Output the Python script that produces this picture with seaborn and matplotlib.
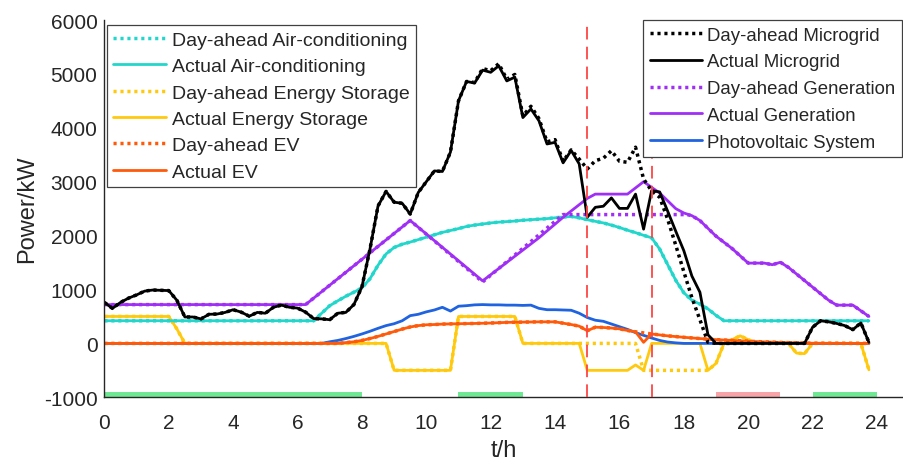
import matplotlib
matplotlib.use("Agg")
import matplotlib.pyplot as plt
import seaborn as sns
import pandas as pd

# ---------------- data (t in hours, power in kW) ----------------
t_mg = [0, 0.25, 0.5, 0.75, 1.0, 1.25, 1.5, 1.75, 2.0, 2.25, 2.5, 2.75, 3.0, 3.25, 3.5, 3.75,
        4.0, 4.25, 4.5, 4.75, 5.0, 5.25, 5.5, 5.75, 6.0, 6.25, 6.5, 6.75, 7.0, 7.25, 7.5, 7.75,
        8.0, 8.25, 8.5, 8.75, 9.0, 9.25, 9.5, 9.75, 10.0, 10.25, 10.5, 10.75, 11.0, 11.25, 11.5, 11.75,
        12.0, 12.25, 12.5, 12.75, 13.0, 13.25, 13.5, 13.75, 14.0, 14.25, 14.5, 14.75, 15.0, 15.25,
        15.5, 15.75, 16.0, 16.25, 16.5, 16.75, 17.0, 17.25, 17.5, 17.75, 18.0, 18.25, 18.5, 18.75,
        19.0, 21.75, 22.0, 22.25, 22.5, 22.75, 23.0, 23.25, 23.5, 23.75]
mg_actual = [760, 650, 760, 840, 900, 970, 990, 985, 980, 800, 490, 490, 455, 540, 545, 575,
             625, 580, 505, 575, 560, 670, 710, 670, 655, 580, 460, 455, 440, 560, 575, 720,
             1050, 1750, 2550, 2820, 2620, 2600, 2400, 2800, 3000, 3200, 3190, 3550, 4500, 4860, 4830, 5070,
             5030, 5150, 4870, 4940, 4190, 4350, 4130, 3700, 3730, 3350, 3580, 3330, 2340, 2525,
             2545, 2700, 2505, 2505, 2770, 2120, 2835, 2810, 2450, 2080, 1720, 1250, 950, 160,
             0, 0, 300, 420, 400, 370, 330, 255, 380, 20]
mg_dayahead = [760, 650, 760, 840, 900, 970, 990, 985, 980, 800, 490, 490, 455, 540, 545, 575,
               625, 580, 505, 575, 560, 670, 710, 670, 655, 580, 460, 455, 440, 560, 575, 720,
               1050, 1750, 2550, 2820, 2620, 2600, 2400, 2800, 3000, 3200, 3190, 3550, 4500, 4860, 4840, 5100,
               5060, 5190, 4900, 4990, 4220, 4400, 4170, 3740, 3780, 3380, 3590, 3420, 3235, 3390,
               3435, 3575, 3380, 3360, 3640, 3050, 2830, 2710, 2300, 1820, 1330, 850, 440, 20,
               0, 0, 300, 420, 400, 370, 330, 255, 380, 20]

t_ac = [0, 6.5, 6.75, 7.0, 7.25, 7.5, 7.75, 8.0, 8.25, 8.5, 8.75, 9.0, 9.25, 9.5, 9.75, 10.0,
        10.25, 10.5, 10.75, 11.0, 11.25, 11.5, 11.75, 12.0, 12.25, 12.5, 12.75, 13.0, 13.25, 13.5,
        13.75, 14.0, 14.25, 14.5, 14.75, 15.0, 15.25, 15.5, 15.75, 16.0, 16.25, 16.5, 16.75, 17.0,
        17.25, 17.5, 17.75, 18.0, 18.25, 18.5, 18.75, 19.0, 19.25, 23.75]
ac_actual = [420, 420, 560, 700, 790, 875, 950, 1030, 1200, 1450, 1660, 1780, 1840, 1880, 1925, 1970,
             2015, 2060, 2095, 2130, 2170, 2195, 2215, 2235, 2250, 2260, 2270, 2285, 2295, 2305,
             2315, 2330, 2345, 2355, 2330, 2295, 2265, 2235, 2195, 2150, 2100, 2055, 2005, 1960,
             1750, 1460, 1170, 940, 800, 730, 640, 520, 420, 420]
ac_dayahead = list(ac_actual)

t_gen = [0, 6.25, 9.5, 11.75, 13.5, 14.25, 15.0, 15.25, 16.25, 16.75, 17.25, 17.75, 18.0, 18.25,
         18.5, 19.0, 19.5, 20.0, 20.5, 20.75, 21.0, 21.25, 22.5, 22.75, 23.25, 23.75]
gen_actual = [720, 720, 2280, 1160, 1960, 2340, 2690, 2770, 2770, 3000, 2790, 2500, 2420, 2370,
              2280, 1990, 1760, 1490, 1490, 1460, 1505, 1410, 800, 710, 710, 500]
t_gen_da = [0, 6.25, 9.5, 11.75, 14.25, 18.1, 18.25, 18.5, 19.0, 19.5, 20.0, 20.5, 20.75, 21.0,
            21.25, 22.5, 22.75, 23.25, 23.75]
gen_dayahead = [720, 720, 2280, 1140, 2390, 2390, 2370, 2280, 1990, 1760, 1490, 1490, 1460, 1505,
                1410, 800, 710, 710, 500]

t_pv = [0, 6.75, 7.0, 7.25, 7.5, 7.75, 8.0, 8.25, 8.5, 8.75, 9.0, 9.25, 9.5, 9.75, 10.0, 10.25,
        10.5, 10.75, 11.0, 11.25, 11.5, 11.75, 12.0, 12.25, 12.5, 12.75, 13.0, 13.25, 13.5, 13.75,
        14.0, 14.25, 14.5, 14.75, 15.0, 15.25, 15.5, 15.75, 16.0, 16.25, 16.5, 16.75, 17.0, 17.25,
        17.5, 17.75, 18.0, 23.75]
pv = [0, 0, 30, 55, 90, 130, 175, 225, 280, 330, 365, 420, 515, 540, 585, 620,
      670, 600, 690, 700, 715, 720, 715, 715, 710, 710, 705, 710, 650, 625,
      625, 620, 615, 560, 480, 430, 410, 360, 310, 260, 200, 150, 100, 55,
      25, 10, 0, 0]

t_ev = [0, 7.25, 7.5, 7.75, 8.0, 8.25, 8.5, 8.75, 9.0, 9.25, 9.5, 9.75, 10.0, 10.25, 10.5, 10.75,
        11.0, 11.5, 12.0, 12.5, 13.0, 13.5, 14.0, 14.5, 14.75, 15.0, 15.25, 15.5, 15.75, 16.0,
        16.25, 16.5, 16.75, 17.0, 17.5, 18.0, 18.5, 19.0, 19.5, 20.0, 20.5, 21.0, 21.5, 22.0, 23.75]
ev_actual = [0, 0, 15, 30, 55, 90, 130, 175, 220, 265, 305, 330, 345, 350, 358, 362,
             365, 370, 378, 390, 395, 400, 400, 350, 320, 235, 300, 295, 285, 270,
             240, 215, 20, 175, 140, 113, 90, 70, 55, 40, 28, 18, 10, 3, 0]
ev_dayahead = [0, 0, 15, 30, 55, 90, 130, 175, 220, 265, 305, 330, 345, 350, 358, 362,
               365, 370, 378, 390, 395, 400, 400, 350, 320, 235, 300, 295, 285, 270,
               240, 215, 195, 175, 140, 113, 90, 70, 55, 40, 28, 18, 10, 3, 0]

t_es = [0, 2.0, 2.25, 2.5, 8.75, 9.0, 10.75, 11.0, 12.75, 13.0, 14.75, 15.0, 16.25, 16.5, 16.75,
        17.0, 18.5, 18.75, 19.0, 19.25, 19.75, 20.25, 21.25, 21.5, 21.75, 22.0, 23.5, 23.75]
es_actual = [500, 500, 270, 0, 0, -500, -500, 500, 500, 0, 0, -500, -500, -400, -500,
             0, 0, -500, -370, 0, 140, 0, 0, -180, -190, 0, 0, -490]
t_es_da = [0, 2.0, 2.25, 2.5, 8.75, 9.0, 10.75, 11.0, 12.75, 13.0, 16.5, 16.75, 18.75, 19.0,
           19.25, 19.75, 20.25, 21.25, 21.5, 21.75, 22.0, 23.5, 23.75]
es_dayahead = [500, 500, 270, 0, 0, -500, -500, 500, 500, 0, 0, -500, -500, -370,
               0, 140, 0, 0, -180, -190, 0, 0, -490]

green_periods = [(0, 8), (11, 13), (22, 24)]
red_periods = [(19, 21)]
event_lines = [15, 17]

# ---------------- style ----------------
sns.set_style("white")
plt.rcParams["font.family"] = ["Liberation Sans", "DejaVu Sans"]
plt.rcParams["axes.unicode_minus"] = False
TXT = "#262626"

fig = plt.figure(figsize=(9.04, 4.64), dpi=100)
ax = fig.add_axes([0.1155, 0.1416, 0.8845, 0.8131])

C_AC = "#22d6cb"
C_ES = "#ffc90e"
C_EV = "#ff5a0a"
C_MG = "#000000"
C_GEN = "#a02ff5"
C_PV = "#1f63e0"
DOT = (0, (0.9, 1.1))
LW = 2.0


def draw(t, v, color, dotted=False):
    df = pd.DataFrame({"t": t, "P": v})
    sns.lineplot(data=df, x="t", y="P", ax=ax, color=color, estimator=None, sort=False,
                 lw=2.5 if dotted else LW, linestyle=DOT if dotted else "-")
    return ax.lines[-1]


h_es_da = draw(t_es_da, es_dayahead, C_ES, True)
h_es = draw(t_es, es_actual, C_ES)
h_ac_da = draw(t_ac, ac_dayahead, C_AC, True)
h_ac = draw(t_ac, ac_actual, C_AC)
h_gen_da = draw(t_gen_da, gen_dayahead, C_GEN, True)
h_gen = draw(t_gen, gen_actual, C_GEN)
h_pv = draw(t_pv, pv, C_PV)
h_ev_da = draw(t_ev, ev_dayahead, C_EV, True)
h_ev = draw(t_ev, ev_actual, C_EV)
h_mg_da = draw(t_mg, mg_dayahead, C_MG, True)
h_mg = draw(t_mg, mg_actual, C_MG)

for a, b in green_periods:
    ax.fill_between([a, b], -1000, -905, color="#6ee892", lw=0, zorder=1)
for a, b in red_periods:
    ax.fill_between([a, b], -1000, -905, color="#f7a3a7", lw=0, zorder=1)
for x in event_lines:
    ax.axvline(x, color="#ff4444", lw=1.3, linestyle=(0, (7, 4)), zorder=5)

ax.set_xlim(0, 24.84)
ax.set_ylim(-1000, 6000)
ax.set_xticks(range(0, 25, 2))
ax.set_yticks(range(-1000, 6001, 1000))
ax.tick_params(direction="in", length=5, width=0.9, colors=TXT, labelsize=15)
ax.tick_params(axis="y", pad=5)
ax.tick_params(axis="x", pad=11)
for s in ["top", "right"]:
    ax.spines[s].set_visible(False)
for s in ["left", "bottom"]:
    ax.spines[s].set_color(TXT)
    ax.spines[s].set_linewidth(1.0)
ax.set_xlabel("t/h", fontsize=17, color=TXT, labelpad=5)
ax.set_ylabel("Power/kW", fontsize=17, color=TXT, labelpad=4)

leg_kw = dict(frameon=True, fancybox=False, framealpha=1, edgecolor="#404040",
              handletextpad=0.3, borderaxespad=0, bbox_transform=fig.transFigure)
leg1 = ax.legend([h_ac_da, h_ac, h_es_da, h_es, h_ev_da, h_ev],
                 ["Day-ahead Air-conditioning", "Actual Air-conditioning",
                  "Day-ahead Energy Storage", "Actual Energy Storage",
                  "Day-ahead EV", "Actual EV"],
                 loc="upper left", bbox_to_anchor=(107 / 904, 1 - 26 / 464),
                 fontsize=14, handlelength=2.7, labelspacing=0.45, borderpad=0.32, **leg_kw)
leg1.get_frame().set_linewidth(0.9)
ax.add_artist(leg1)
leg2 = ax.legend([h_mg_da, h_mg, h_gen_da, h_gen, h_pv],
                 ["Day-ahead Microgrid", "Actual Microgrid", "Day-ahead Generation",
                  "Actual Generation", "Photovoltaic System"],
                 loc="upper left", bbox_to_anchor=(643 / 904, 1 - 21 / 464),
                 fontsize=13.4, handlelength=2.8, labelspacing=0.52, borderpad=0.36, **leg_kw)
leg2.get_frame().set_linewidth(0.9)

fig.savefig("out.png", dpi=100)
